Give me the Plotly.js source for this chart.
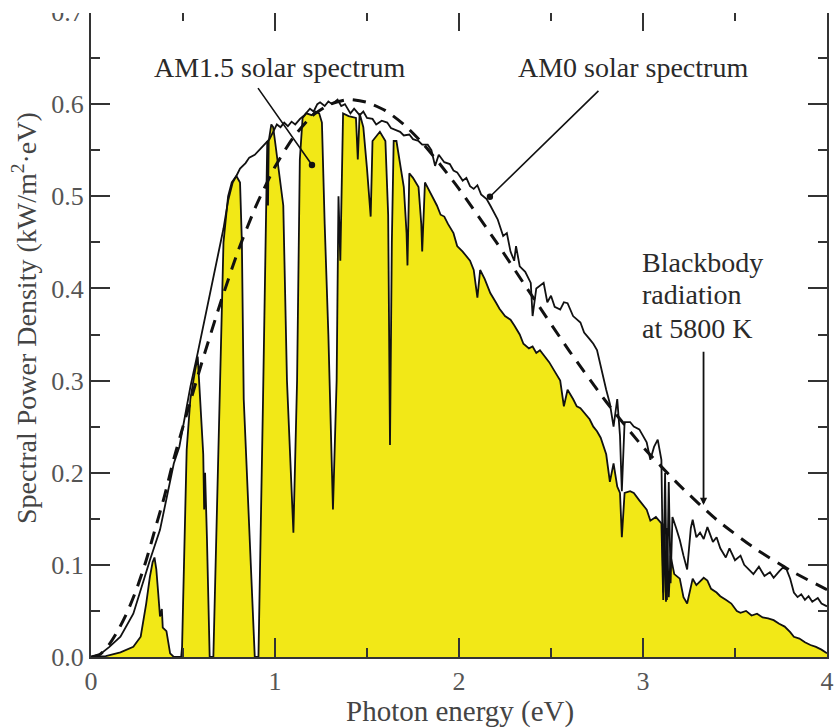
<!DOCTYPE html>
<html>
<head>
<meta charset="utf-8">
<script src="https://cdn.plot.ly/plotly-3.0.1.min.js"></script>
<style>html,body{margin:0;padding:0;background:#fff;}#chart{width:834px;height:728px;}</style>
</head>
<body>
<div id="chart"></div>
<script>
// Blackbody radiation at 5800 K (dashed), [photon energy eV, kW/m2.eV]
var blackbodyPoints = [[0,0],[0.05,0.003],[0.1,0.014],[0.15,0.03],[0.2,0.05],[0.25,0.075],[0.3,0.105],[0.35,0.14],[0.4,0.175],[0.45,0.215],[0.5,0.25],[0.6,0.318],[0.7,0.382],[0.8,0.441],[0.9,0.491],[1.0,0.532],[1.1,0.564],[1.2,0.587],[1.3,0.6],[1.4,0.605],[1.5,0.602],[1.6,0.593],[1.7,0.578],[1.8,0.558],[1.9,0.534],[2.0,0.508],[2.2,0.451],[2.4,0.391],[2.6,0.332],[2.8,0.277],[3.0,0.228],[3.2,0.186],[3.4,0.149],[3.6,0.119],[3.8,0.094],[4.0,0.073]];

// AM0 solar spectrum
var am0Points = [[0,0],[0.05,0.003],[0.1,0.011],[0.16,0.022],[0.23,0.047],[0.28,0.08],[0.32,0.105],[0.375,0.138],[0.42,0.18],[0.45,0.21],[0.48,0.228],[0.51,0.26],[0.54,0.293],[0.58,0.33],[0.61,0.359],[0.64,0.39],[0.66,0.41],[0.69,0.44],[0.72,0.465],[0.745,0.495],[0.77,0.515],[0.79,0.522],[0.81,0.53],[0.84,0.536],[0.86,0.542],[0.89,0.545],[0.92,0.551],[0.95,0.558],[0.97,0.562],[0.99,0.57],[1.01,0.578],[1.03,0.575],[1.05,0.58],[1.07,0.576],[1.09,0.581],[1.11,0.578],[1.136,0.584],[1.16,0.588],[1.19,0.595],[1.21,0.592],[1.23,0.6],[1.245,0.602],[1.27,0.598],[1.29,0.603],[1.31,0.6],[1.34,0.605],[1.36,0.598],[1.38,0.6],[1.41,0.59],[1.43,0.595],[1.46,0.588],[1.48,0.592],[1.5,0.585],[1.53,0.584],[1.55,0.578],[1.58,0.582],[1.61,0.58],[1.63,0.574],[1.66,0.572],[1.68,0.57],[1.7,0.566],[1.73,0.567],[1.75,0.562],[1.78,0.56],[1.8,0.556],[1.83,0.556],[1.85,0.55],[1.87,0.533],[1.89,0.545],[1.92,0.537],[1.95,0.535],[1.97,0.528],[1.99,0.526],[2.02,0.517],[2.04,0.52],[2.06,0.511],[2.08,0.508],[2.1,0.512],[2.12,0.502],[2.15,0.497],[2.17,0.49],[2.19,0.482],[2.21,0.475],[2.24,0.457],[2.26,0.46],[2.28,0.44],[2.3,0.43],[2.31,0.446],[2.33,0.424],[2.36,0.418],[2.39,0.406],[2.4,0.37],[2.42,0.4],[2.46,0.406],[2.48,0.385],[2.5,0.392],[2.52,0.38],[2.55,0.377],[2.57,0.385],[2.59,0.384],[2.62,0.37],[2.66,0.363],[2.68,0.352],[2.71,0.345],[2.73,0.34],[2.75,0.333],[2.77,0.315],[2.8,0.29],[2.82,0.275],[2.84,0.25],[2.86,0.28],[2.875,0.24],[2.885,0.18],[2.9,0.255],[2.93,0.255],[2.95,0.25],[2.98,0.247],[3.0,0.24],[3.02,0.233],[3.04,0.214],[3.06,0.228],[3.08,0.236],[3.1,0.214],[3.11,0.07],[3.12,0.2],[3.13,0.062],[3.14,0.19],[3.15,0.08],[3.16,0.152],[3.18,0.14],[3.2,0.127],[3.22,0.11],[3.24,0.095],[3.26,0.14],[3.27,0.149],[3.29,0.13],[3.31,0.135],[3.33,0.128],[3.35,0.141],[3.38,0.125],[3.4,0.13],[3.42,0.118],[3.45,0.108],[3.47,0.118],[3.5,0.105],[3.53,0.11],[3.55,0.1],[3.58,0.094],[3.6,0.09],[3.63,0.098],[3.66,0.088],[3.69,0.092],[3.71,0.086],[3.74,0.093],[3.76,0.097],[3.78,0.095],[3.8,0.085],[3.82,0.07],[3.84,0.065],[3.86,0.068],[3.88,0.062],[3.9,0.066],[3.92,0.06],[3.95,0.064],[3.97,0.058],[4.0,0.055]];

// AM1.5 solar spectrum (yellow filled)
var am15Points = [[0,0],[0.08,0.001],[0.16,0.005],[0.23,0.011],[0.27,0.022],[0.3,0.058],[0.32,0.087],[0.335,0.103],[0.345,0.108],[0.355,0.095],[0.365,0.07],[0.375,0.044],[0.385,0.052],[0.39,0.032],[0.4,0.03],[0.41,0.028],[0.43,0.004],[0.45,0],[0.49,0],[0.495,0.011],[0.5,0.054],[0.52,0.225],[0.54,0.28],[0.555,0.3],[0.565,0.31],[0.58,0.326],[0.59,0.29],[0.6,0.26],[0.61,0.22],[0.615,0.16],[0.62,0.2],[0.63,0.13],[0.645,0],[0.665,0],[0.7,0.28],[0.72,0.45],[0.745,0.5],[0.765,0.515],[0.79,0.522],[0.81,0.515],[0.82,0.45],[0.83,0.28],[0.89,0],[0.91,0],[0.935,0.28],[0.95,0.5],[0.955,0.55],[0.958,0.56],[0.962,0.49],[0.966,0.56],[0.98,0.578],[0.99,0.575],[1.0,0.56],[1.02,0.53],[1.045,0.49],[1.065,0.3],[1.08,0.22],[1.1,0.135],[1.12,0.3],[1.135,0.54],[1.15,0.585],[1.17,0.59],[1.2,0.588],[1.22,0.592],[1.24,0.59],[1.255,0.58],[1.27,0.47],[1.29,0.35],[1.315,0.16],[1.335,0.3],[1.345,0.5],[1.355,0.43],[1.37,0.59],[1.4,0.587],[1.44,0.585],[1.45,0.54],[1.46,0.59],[1.48,0.575],[1.5,0.53],[1.52,0.478],[1.53,0.56],[1.57,0.57],[1.6,0.56],[1.615,0.48],[1.625,0.23],[1.635,0.45],[1.645,0.56],[1.66,0.56],[1.7,0.51],[1.715,0.46],[1.72,0.425],[1.73,0.525],[1.75,0.52],[1.78,0.51],[1.795,0.47],[1.8,0.44],[1.815,0.515],[1.84,0.505],[1.88,0.49],[1.9,0.48],[1.92,0.478],[1.94,0.47],[1.97,0.46],[1.99,0.446],[2.02,0.44],[2.06,0.43],[2.08,0.42],[2.1,0.39],[2.115,0.42],[2.14,0.41],[2.17,0.395],[2.2,0.385],[2.22,0.378],[2.25,0.37],[2.28,0.366],[2.3,0.36],[2.33,0.35],[2.35,0.34],[2.38,0.335],[2.4,0.337],[2.42,0.33],[2.44,0.333],[2.47,0.325],[2.49,0.32],[2.52,0.31],[2.55,0.3],[2.57,0.272],[2.59,0.29],[2.62,0.28],[2.64,0.272],[2.66,0.27],[2.68,0.265],[2.71,0.258],[2.73,0.25],[2.75,0.245],[2.77,0.238],[2.8,0.22],[2.82,0.19],[2.84,0.21],[2.86,0.185],[2.875,0.178],[2.885,0.13],[2.9,0.178],[2.93,0.18],[2.95,0.178],[2.98,0.17],[3.0,0.165],[3.02,0.16],[3.04,0.148],[3.07,0.152],[3.1,0.145],[3.11,0.062],[3.115,0.145],[3.125,0.06],[3.13,0.14],[3.14,0.065],[3.15,0.11],[3.17,0.09],[3.2,0.085],[3.22,0.065],[3.24,0.058],[3.26,0.075],[3.27,0.085],[3.29,0.078],[3.31,0.082],[3.33,0.086],[3.35,0.083],[3.37,0.074],[3.4,0.07],[3.42,0.066],[3.45,0.062],[3.48,0.058],[3.51,0.05],[3.53,0.048],[3.56,0.05],[3.59,0.045],[3.62,0.047],[3.65,0.043],[3.68,0.042],[3.71,0.04],[3.74,0.036],[3.77,0.033],[3.8,0.027],[3.82,0.022],[3.85,0.02],[3.88,0.016],[3.91,0.013],[3.94,0.011],[3.97,0.008],[4.0,0.004]];

var xTickVals = [0, 1, 2, 3, 4];
var xTickText = ['0', '1', '2', '3', '4'];
var yTickVals = [0, 0.1, 0.2, 0.3, 0.4, 0.5, 0.6, 0.7];
var yTickText = ['0.0', '0.1', '0.2', '0.3', '0.4', '0.5', '0.6', '0.7'];

function col(pts, i) { return pts.map(function (p) { return p[i]; }); }

var SERIF = 'Liberation Serif, Times New Roman, serif';
var AXC = '#333333';

var traces = [
  {x: col(am15Points, 0), y: col(am15Points, 1), type: 'scatter', mode: 'lines',
   fill: 'tozeroy', fillcolor: '#F2E817', line: {color: '#111111', width: 1.8}, hoverinfo: 'skip', name: 'AM1.5'},
  {x: col(am0Points, 0), y: col(am0Points, 1), type: 'scatter', mode: 'lines',
   line: {color: '#111111', width: 1.8}, hoverinfo: 'skip', name: 'AM0'},
  {x: col(blackbodyPoints, 0), y: col(blackbodyPoints, 1), type: 'scatter', mode: 'lines',
   line: {color: '#111111', width: 3, dash: '13px,9px', shape: 'spline', smoothing: 0.6}, hoverinfo: 'skip', name: 'Blackbody'}
];

var annFont = {family: SERIF, size: 28, color: '#2a2a2a'};

var layout = {
  width: 834, height: 728,
  margin: {l: 91, r: 7, t: 12, b: 71},
  paper_bgcolor: '#ffffff', plot_bgcolor: '#ffffff',
  showlegend: false,
  xaxis: {
    range: [0, 4], tickvals: xTickVals, ticktext: xTickText,
    ticks: 'inside', ticklen: 19, tickwidth: 2, tickcolor: AXC,
    showline: true, linecolor: AXC, linewidth: 2, mirror: 'allticks',
    showgrid: false, zeroline: false,
    tickfont: {family: SERIF, size: 26, color: '#555555'},
    minor: {ticks: 'inside', ticklen: 9, tickwidth: 2, tickcolor: AXC, dtick: 0.5, showgrid: false}
  },
  yaxis: {
    range: [0, 0.7], tickvals: yTickVals, ticktext: yTickText,
    ticks: 'inside', ticklen: 19, tickwidth: 2, tickcolor: AXC,
    showline: true, linecolor: AXC, linewidth: 2, mirror: 'allticks',
    showgrid: false, zeroline: false, ticklabeloverflow: 'allow',
    tickfont: {family: SERIF, size: 26, color: '#555555'},
    minor: {ticks: 'inside', ticklen: 9, tickwidth: 2, tickcolor: AXC, dtick: 0.05, showgrid: false}
  },
  shapes: [
    {type: 'rect', xref: 'paper', yref: 'paper', x0: -0.2, x1: 1.05, y0: 1 - 1/645, y1: 1.1,
     fillcolor: '#ffffff', line: {width: 0}, layer: 'above'}
  ],
  annotations: [
    {xref: 'paper', yref: 'paper', x: -0.0897, y: 0.5256, textangle: -90, showarrow: false,
     text: 'Spectral Power Density (kW/m<sup>2</sup>·eV)', font: {family: SERIF, size: 28, color: '#444444'},
     xanchor: 'center', yanchor: 'middle'},
    {xref: 'paper', yref: 'paper', x: 0.501, y: -0.084, showarrow: false,
     text: 'Photon energy (eV)', font: {family: SERIF, size: 29, color: '#444444'},
     xanchor: 'center', yanchor: 'middle'},
    {xref: 'x', yref: 'y', x: 1.027, y: 0.6395, showarrow: false, text: 'AM1.5 solar spectrum',
     font: annFont, xanchor: 'center', yanchor: 'middle'},
    {xref: 'x', yref: 'y', x: 2.946, y: 0.6395, showarrow: false, text: 'AM0 solar spectrum',
     font: annFont, xanchor: 'center', yanchor: 'middle'},
    {xref: 'x', yref: 'y', x: 2.984, y: 0.4278, showarrow: false, text: 'Blackbody',
     font: annFont, xanchor: 'left', yanchor: 'middle'},
    {xref: 'x', yref: 'y', x: 2.984, y: 0.393, showarrow: false, text: 'radiation',
     font: annFont, xanchor: 'left', yanchor: 'middle'},
    {xref: 'x', yref: 'y', x: 2.984, y: 0.357, showarrow: false, text: 'at 5800 K',
     font: annFont, xanchor: 'left', yanchor: 'middle'},
    {xref: 'x', yref: 'y', x: 1.201, y: 0.534, axref: 'x', ayref: 'y', ax: 0.902, ay: 0.619,
     text: '', showarrow: true, arrowhead: 6, arrowsize: 1, arrowwidth: 1.6, arrowcolor: '#111111', standoff: 0},
    {xref: 'x', yref: 'y', x: 2.168, y: 0.4995, axref: 'x', ayref: 'y', ax: 2.766, ay: 0.616,
     text: '', showarrow: true, arrowhead: 6, arrowsize: 1, arrowwidth: 1.6, arrowcolor: '#111111', standoff: 0},
    {xref: 'x', yref: 'y', x: 3.329, y: 0.165, axref: 'x', ayref: 'y', ax: 3.329, ay: 0.333,
     text: '', showarrow: true, arrowhead: 2, arrowsize: 0.8, arrowwidth: 1.8, arrowcolor: '#111111', standoff: 0}
  ]
};

Plotly.newPlot('chart', traces, layout, {staticPlot: true, displayModeBar: false});
</script>
</body>
</html>
